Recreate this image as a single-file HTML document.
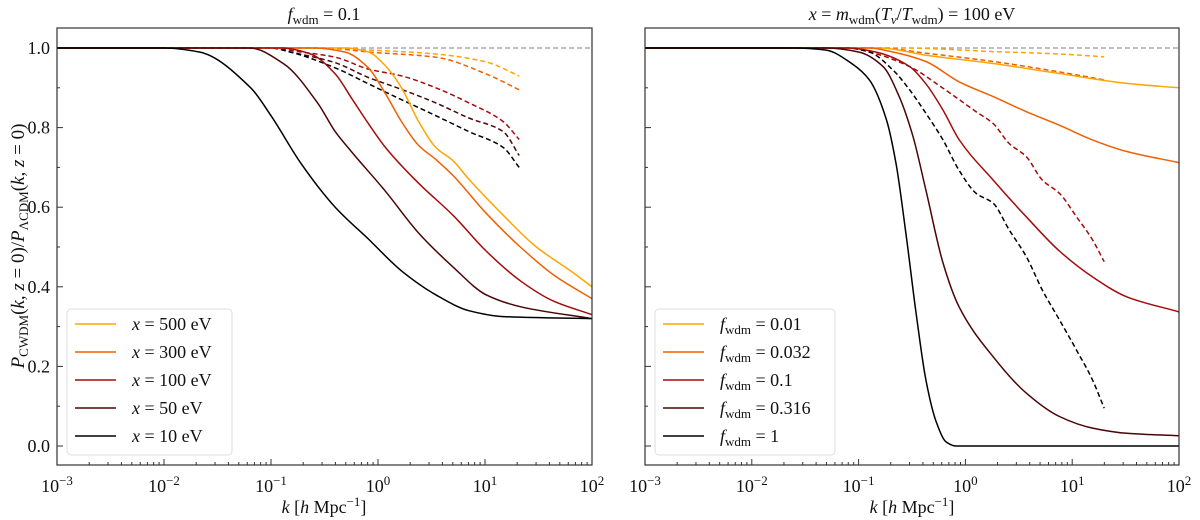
<!DOCTYPE html>
<html><head><meta charset="utf-8">
<style>
body{margin:0;background:#fff;}
svg{display:block;font-family:"Liberation Serif",serif;}
</style></head>
<body>
<svg id="fig" width="1200" height="520" viewBox="0 0 1200 520" xmlns="http://www.w3.org/2000/svg"></svg>
<script>
// ---------- DATA ----------
const xTickLabels = ["-3","-2","-1","0","1","2"];
const yTickLabels = ["0.0","0.2","0.4","0.6","0.8","1.0"];
const leftLabels = ["500","300","100","50","10"];
const rightLabels = ["0.01","0.032","0.1","0.316","1"];
const seriesColors = ["#ffa500","#f06000","#a30c0c","#4a0505","#000000"];

// left panel, solid: [log10 k, ratio]
const L_solid_500 = [[-3,1],[-0.3,1],[-0.09,0.99],[0.07,0.955],[0.22,0.9],[0.38,0.815],[0.54,0.75],[0.70,0.717],[0.85,0.67],[1.17,0.58],[1.48,0.50],[1.80,0.44],[2,0.40]];
const L_solid_300 = [[-3,1],[-0.6,1],[-0.31,0.99],[-0.09,0.95],[0.07,0.885],[0.22,0.815],[0.38,0.755],[0.54,0.72],[0.70,0.68],[1.01,0.585],[1.33,0.50],[1.64,0.43],[2,0.37]];
const L_solid_100 = [[-3,1],[-0.9,1],[-0.63,0.985],[-0.40,0.935],[-0.25,0.875],[-0.09,0.81],[0.07,0.75],[0.38,0.66],[0.70,0.58],[1.01,0.49],[1.33,0.415],[1.64,0.364],[2,0.33]];
const L_solid_50 = [[-3,1],[-1.2,1],[-0.88,0.96],[-0.56,0.86],[-0.40,0.79],[-0.25,0.74],[0.07,0.64],[0.38,0.535],[0.70,0.45],[1.01,0.38],[1.33,0.35],[2,0.32]];
const L_solid_10 = [[-3,1],[-2,1],[-1.67,0.99],[-1.19,0.90],[-1.0,0.83],[-0.72,0.71],[-0.40,0.60],[-0.09,0.52],[0.22,0.44],[0.54,0.38],[0.85,0.34],[1.17,0.325],[2,0.32]];
// left panel, dashed
const L_dash_500 = [[-3,1],[-0.5,1],[-0.09,0.995],[0.54,0.985],[1.01,0.965],[1.32,0.93]];
const L_dash_300 = [[-3,1],[-0.5,1],[-0.09,0.99],[0.54,0.977],[1.01,0.935],[1.32,0.895]];
const L_dash_100 = [[-3,1],[-1.0,1],[-0.72,0.99],[-0.40,0.977],[-0.09,0.947],[0.22,0.93],[0.54,0.90],[0.85,0.862],[1.17,0.815],[1.32,0.77]];
const L_dash_50 = [[-3,1],[-1.0,1],[-0.82,0.99],[-0.40,0.963],[-0.09,0.926],[0.22,0.896],[0.54,0.862],[0.85,0.824],[1.17,0.79],[1.32,0.73]];
const L_dash_10 = [[-3,1],[-1.0,1],[-0.82,0.99],[-0.40,0.95],[-0.09,0.91],[0.22,0.87],[0.54,0.83],[0.85,0.79],[1.17,0.75],[1.32,0.70]];
// right panel, solid
const R_solid_001 = [[-3,1],[-0.8,1],[-0.37,0.982],[0.26,0.961],[0.88,0.936],[1.51,0.911],[2,0.90]];
const R_solid_0032 = [[-3,1],[-0.9,1],[-0.68,0.99],[-0.37,0.966],[-0.06,0.915],[0.26,0.878],[0.57,0.84],[0.88,0.806],[1.19,0.769],[1.51,0.74],[2,0.712]];
const R_solid_01 = [[-3,1],[-1.1,1],[-0.84,0.99],[-0.52,0.953],[-0.37,0.91],[-0.21,0.844],[-0.06,0.77],[0.26,0.668],[0.57,0.576],[0.88,0.49],[1.19,0.425],[1.51,0.375],[2,0.337]];
const R_solid_0316 = [[-3,1],[-1.3,1],[-1.0,0.99],[-0.77,0.953],[-0.62,0.878],[-0.49,0.777],[-0.37,0.643],[-0.21,0.46],[-0.06,0.35],[0.26,0.224],[0.57,0.133],[0.88,0.074],[1.19,0.045],[1.51,0.032],[2,0.026]];
const R_solid_1 = [[-3,1],[-1.6,1],[-1.31,0.995],[-1.06,0.96],[-0.90,0.92],[-0.74,0.82],[-0.65,0.71],[-0.56,0.54],[-0.46,0.33],[-0.37,0.166],[-0.27,0.058],[-0.18,0.01],[-0.09,0.0],[2,0.0]];
// right panel, dashed
const R_dash_001 = [[-3,1],[-0.6,1],[0.26,0.991],[0.88,0.985],[1.30,0.978]];
const R_dash_0032 = [[-3,1],[-0.8,1],[-0.37,0.987],[0.26,0.966],[0.88,0.94],[1.30,0.92]];
const R_dash_01 = [[-3,1],[-1.1,1],[-0.90,0.99],[-0.52,0.953],[-0.21,0.899],[0.10,0.84],[0.26,0.81],[0.41,0.76],[0.57,0.727],[0.72,0.668],[0.88,0.635],[1.04,0.576],[1.19,0.518],[1.30,0.463]];
const R_dash_1 = [[-3,1],[-1.1,1],[-0.90,0.99],[-0.68,0.945],[-0.52,0.894],[-0.37,0.836],[-0.21,0.769],[-0.06,0.693],[0.10,0.635],[0.26,0.61],[0.41,0.543],[0.57,0.476],[0.72,0.392],[0.88,0.317],[1.04,0.241],[1.19,0.166],[1.30,0.095]];

const leftSolid=[L_solid_500,L_solid_300,L_solid_100,L_solid_50,L_solid_10];
const leftDash=[L_dash_500,L_dash_300,L_dash_100,L_dash_50,L_dash_10];
const rightSolid=[R_solid_001,R_solid_0032,R_solid_01,R_solid_0316,R_solid_1];
const rightDash=[R_dash_001,R_dash_0032,R_dash_01,R_dash_1];
const rightDashColors=[0,1,2,4];

// ---------- DRAW ----------
const NS="http://www.w3.org/2000/svg";
const svg=document.getElementById('fig');
function mk(tag,attrs,parent){const e=document.createElementNS(NS,tag);for(const k in attrs)e.setAttribute(k,attrs[k]);(parent||svg).appendChild(e);return e;}

const Y0=446, Y1=48, FT=28, FB=465;
function yS(v){return Y0+(Y1-Y0)*v;}

// monotone cubic path through pixel points
function monoPath(P){
  const n=P.length;if(n<2)return '';
  const dx=[],dy=[],m=[];
  for(let i=0;i<n-1;i++){dx.push(P[i+1][0]-P[i][0]);dy.push(P[i+1][1]-P[i][1]);m.push(dy[i]/dx[i]);}
  const t=[m[0]];
  for(let i=1;i<n-1;i++){ if(m[i-1]*m[i]<=0)t.push(0); else {const w1=2*dx[i]+dx[i-1],w2=dx[i]+2*dx[i-1];t.push((w1+w2)/(w1/m[i-1]+w2/m[i]));}}
  t.push(m[n-2]);
  let d='M'+P[0][0].toFixed(1)+','+P[0][1].toFixed(1);
  for(let i=0;i<n-1;i++){const h=dx[i]/3;
    d+='C'+(P[i][0]+h).toFixed(1)+','+(P[i][1]+t[i]*h).toFixed(1)+' '+(P[i+1][0]-h).toFixed(1)+','+(P[i+1][1]-t[i+1]*h).toFixed(1)+' '+P[i+1][0].toFixed(1)+','+P[i+1][1].toFixed(1);}
  return d;
}

function panel(px0,px1,name){
  const g=mk('g',{});
  
  
  const xS=lk=>px0+(lk+3)/5*(px1-px0);
  for(let d=-3;d<2;d++){for(let m=2;m<10;m++){const x=xS(d+Math.log10(m));
    const t=mk('line',{x1:x,x2:x,y1:FB,y2:FB-3,stroke:'#333','stroke-width':1},g);
    
    }}
  xTickLabels.forEach((lab,i)=>{const x=xS(+lab);
    const t=mk('line',{x1:x,x2:x,y1:FB,y2:FB-6,stroke:'#333','stroke-width':1},g);
    
    
    const tx=mk('text',{x:x,y:492,'text-anchor':'middle','font-size':18,fill:'#111'},g);
    
    
    tx.innerHTML='10<tspan dy="-7" font-size="13">'+lab.replace('-','\u2212')+'</tspan>';
  });
  for(let i=0;i<=10;i++){const v=i/10,y=yS(v);
    const t=mk('line',{x1:px0,x2:px0+(i%2?3:6),y1:y,y2:y,stroke:'#333','stroke-width':1},g);
    
    }
  return {g,xS};
}

const P=[panel(57,592,'left-panel'),panel(645,1179,'right-panel')];
const clipL=mk('clipPath',{id:'cl'});mk('rect',{x:57,y:FT,width:535,height:FB-FT},clipL);
const clipR=mk('clipPath',{id:'cr'});mk('rect',{x:645,y:FT,width:534,height:FB-FT},clipR);

function drawLine(pan,pts,color,dash,clip,name){
  const px=pts.map(p=>[pan.xS(p[0]),yS(p[1])]);
  const a={d:monoPath(px),fill:'none',stroke:color,'stroke-width':1.5,'clip-path':'url(#'+clip+')','stroke-linejoin':'round'};
  if(dash)a['stroke-dasharray']='5,3';
  const e=mk('path',a,pan.g);
  
  
}
[[P[0],'cl'],[P[1],'cr']].forEach(([p,c])=>{
  const e=mk('line',{x1:p.xS(-3),x2:p.xS(2),y1:yS(1),y2:yS(1),stroke:'#999','stroke-width':1.3,'stroke-dasharray':'5,3'},p.g);
  
  
});
leftDash.forEach((s,i)=>drawLine(P[0],s,seriesColors[i],true,'cl','dashed-x-'+leftLabels[i]));
leftSolid.forEach((s,i)=>drawLine(P[0],s,seriesColors[i],false,'cl','curve-x-'+leftLabels[i]));
rightDash.forEach((s,i)=>drawLine(P[1],s,seriesColors[rightDashColors[i]],true,'cr','dashed-f-'+rightLabels[rightDashColors[i]]));
rightSolid.forEach((s,i)=>drawLine(P[1],s,seriesColors[i],false,'cr','curve-f-'+rightLabels[i]));

[[57,592],[645,1179]].forEach(([a,b])=>{
  const f=mk('rect',{x:a,y:FT,width:b-a,height:FB-FT,fill:'none',stroke:'#333','stroke-width':1.2});
  
  
});
yTickLabels.forEach(l=>{
  const t=mk('text',{x:50,y:yS(+l)+6,'text-anchor':'end','font-size':18,fill:'#111'});
  t.textContent=l;
  
  
});

function legend(x0,x1,labels,fmt,name){
  const g=mk('g',{});
  
  
  mk('rect',{x:x0,y:309,width:x1-x0,height:146,rx:4,fill:'#fff','fill-opacity':0.85,stroke:'#ddd'},g);
  labels.forEach((l,i)=>{const y=324+i*28;
    const ln=mk('line',{x1:x0+8,x2:x0+49,y1:y,y2:y,stroke:seriesColors[i],'stroke-width':1.6},g);
    
    
    const t=mk('text',{x:x0+65,y:y+6,'font-size':18,fill:'#111'},g);
    t.innerHTML=fmt(l);
    
    
  });
}
legend(67,232,leftLabels,l=>'<tspan font-style="italic">x</tspan> = '+l+' eV','legend-left');
legend(655,835,rightLabels,l=>'<tspan font-style="italic">f</tspan><tspan font-size="13" dy="4">wdm</tspan><tspan dy="-4"> = '+l+'</tspan>','legend-right');

let t=mk('text',{x:324,y:20,'text-anchor':'middle','font-size':18,fill:'#111'});
t.innerHTML='<tspan font-style="italic">f</tspan><tspan font-size="13" dy="4">wdm</tspan><tspan dy="-4"> = 0.1</tspan>';


t=mk('text',{x:912,y:20,'text-anchor':'middle','font-size':18,fill:'#111'});
t.innerHTML='<tspan font-style="italic">x</tspan> = <tspan font-style="italic">m</tspan><tspan font-size="13" dy="4">wdm</tspan><tspan dy="-4">(</tspan><tspan font-style="italic">T</tspan><tspan font-size="13" dy="4" font-style="italic">ν</tspan><tspan dy="-4">/</tspan><tspan font-style="italic">T</tspan><tspan font-size="13" dy="4">wdm</tspan><tspan dy="-4">) = 100 eV</tspan>';


[[324,'x-axis-title-left'],[912,'x-axis-title-right']].forEach(([x,n])=>{
  const e=mk('text',{x:x,y:513,'text-anchor':'middle','font-size':18,fill:'#111'});
  e.innerHTML='<tspan font-style="italic">k</tspan> [<tspan font-style="italic">h</tspan> Mpc<tspan dy="-7" font-size="13">−1</tspan><tspan dy="7">]</tspan>';
  
  
});
t=mk('text',{x:0,y:0,'text-anchor':'middle','font-size':19,fill:'#111',transform:'translate(24,246) rotate(-90)'});
t.innerHTML='<tspan font-style="italic">P</tspan><tspan font-size="13" dy="4">CWDM</tspan><tspan dy="-4">(</tspan><tspan font-style="italic">k, z</tspan> = 0)/<tspan font-style="italic">P</tspan><tspan font-size="13" dy="4">ΛCDM</tspan><tspan dy="-4">(</tspan><tspan font-style="italic">k, z</tspan> = 0)';


</script>
</body></html>
